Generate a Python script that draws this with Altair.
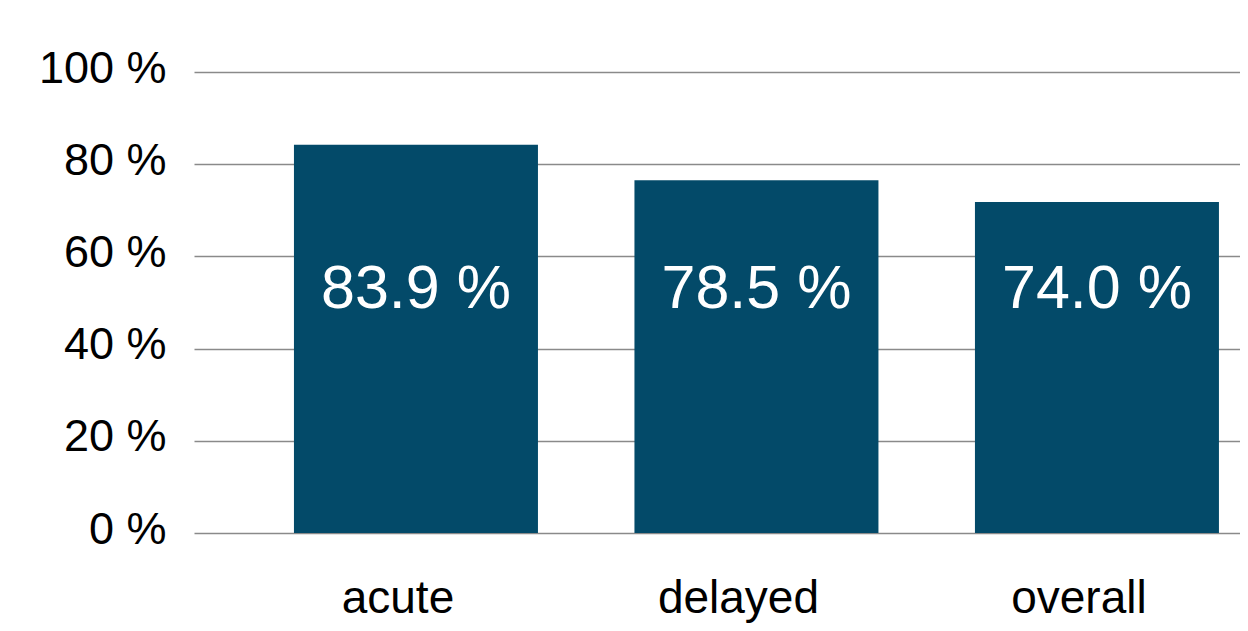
import altair as alt
import pandas as pd

categories = ["acute", "delayed", "overall"]
values = [84.2, 76.5, 71.8]
labels = ["83.9 %", "78.5 %", "74.0 %"]
y_ticks = [0, 20, 40, 60, 80, 100]

df = pd.DataFrame({"cat": categories, "val": values, "lab": labels})

FONT = "Liberation Sans"

x = alt.X(
    "cat:N",
    sort=categories,
    title=None,
    scale=alt.Scale(paddingInner=0.2834, paddingOuter=0.1777, align=0.826),
    axis=alt.Axis(
        labelAngle=0,
        labelFontSize=46,
        labelFont=FONT,
        labelColor="#000000",
        labelBaseline="alphabetic",
        labelPadding=79,
        labelOffset=-18,
        ticks=False,
        tickSize=0,
        domain=False,
        grid=False,
    ),
)

y = alt.Y(
    "val:Q",
    title=None,
    scale=alt.Scale(domain=[0, 100], nice=False, zero=True),
    axis=alt.Axis(
        values=y_ticks,
        labelExpr="datum.value + ' %'",
        labelFontSize=45,
        labelFont=FONT,
        labelColor="#000000",
        labelBaseline="alphabetic",
        labelOffset=10,
        labelPadding=28,
        ticks=False,
        tickSize=0,
        domain=False,
        grid=True,
        gridColor="#8a8a8a",
        gridWidth=1.5,
    ),
)

bars = alt.Chart(df).mark_bar(color="#034a69").encode(x=x, y=y)

text = alt.Chart(df).mark_text(
    color="white", fontSize=61, font=FONT, baseline="alphabetic", align="center"
).encode(
    x=alt.X("cat:N", sort=categories),
    y=alt.value(236),
    text="lab:N",
)

chart = (
    alt.layer(bars, text)
    .properties(
        width=1046,
        height=461,
        autosize=alt.AutoSizeParams(type="none"),
        padding={"left": 186, "top": 64, "right": 0, "bottom": 91},
    )
    .configure_view(stroke=None)
)

chart.save("out.html", embed_options={"renderer": "svg", "actions": False})
